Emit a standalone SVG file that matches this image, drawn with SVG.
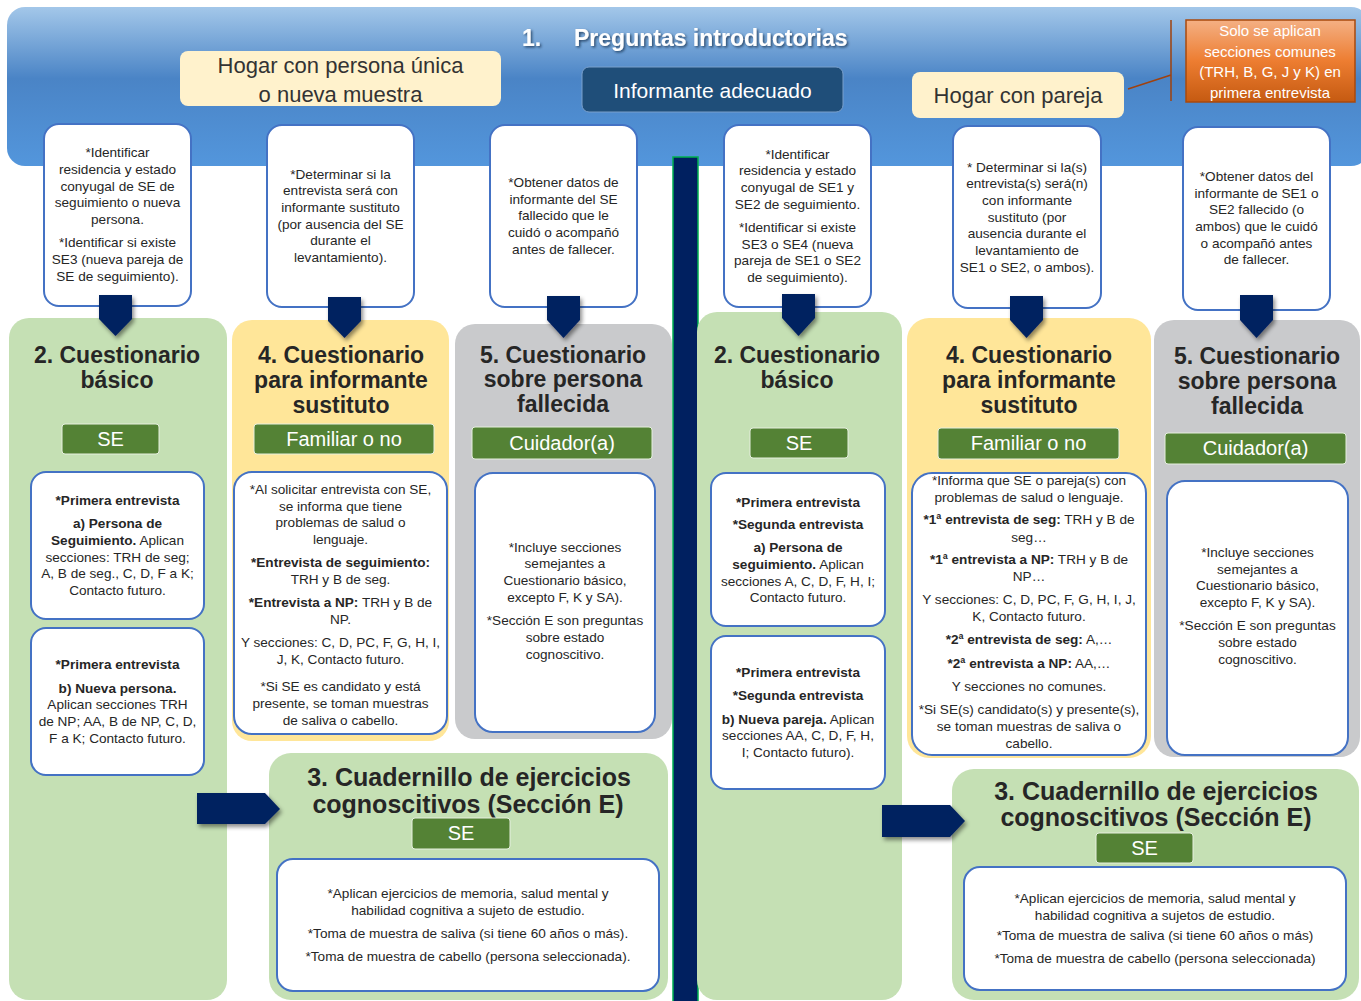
<svg xmlns="http://www.w3.org/2000/svg" width="1361" height="1001" viewBox="0 0 1361 1001">
<defs>
<linearGradient id="gBanner" x1="0" y1="0" x2="0" y2="1">
<stop offset="0" stop-color="#a3c7e9"/>
<stop offset="0.45" stop-color="#4a84c6"/>
<stop offset="1" stop-color="#5396dc"/>
</linearGradient>
<linearGradient id="gOrange" x1="0" y1="0" x2="0" y2="1">
<stop offset="0" stop-color="#f4b084"/>
<stop offset="0.5" stop-color="#ed7d31"/>
<stop offset="1" stop-color="#c55a11"/>
</linearGradient>
<filter id="shadow" x="-30%" y="-30%" width="160%" height="160%">
<feDropShadow dx="2" dy="3" stdDeviation="2" flood-color="#000" flood-opacity="0.45"/>
</filter>
<filter id="tshadow" x="-10%" y="-30%" width="120%" height="160%">
<feDropShadow dx="1.5" dy="1.5" stdDeviation="0.8" flood-color="#1b3553" flood-opacity="0.8"/>
</filter>
<style>
.body{font-family:"Liberation Sans",Arial,sans-serif;font-size:13.6px;fill:#262626;text-anchor:middle}
.b{font-weight:bold}
.ttl{font-family:"Liberation Sans",Arial,sans-serif;font-weight:bold;font-size:23px;fill:#262626;text-anchor:middle}
.ttl2{font-family:"Liberation Sans",Arial,sans-serif;font-weight:bold;font-size:25px;fill:#262626;text-anchor:middle}
.card{fill:#ffffff;stroke:#4472c4;stroke-width:2}
.btn{fill:#548235;stroke:#e6efdf;stroke-width:1}
.btnt{font-family:"Liberation Sans",Arial,sans-serif;font-size:20px;fill:#ffffff;text-anchor:middle}
.green{fill:#c5e0b4}
.yellow{fill:#ffe699}
.gray{fill:#c9cacc}
.cream{fill:#fff2cc}
.lbl{font-family:"Liberation Sans",Arial,sans-serif;font-size:22px;fill:#333333;text-anchor:middle}
.arr{fill:#002060;filter:url(#shadow)}
</style>
</defs>

<g id="banner">
<rect x="7" y="7" width="1362" height="159" rx="18" fill="url(#gBanner)"/>
<text filter="url(#tshadow)" font-family="Liberation Sans, Arial, sans-serif" font-weight="bold" font-size="23" fill="#ffffff"><tspan x="522" y="46">1.</tspan><tspan x="574" y="46">Preguntas introductorias</tspan></text>
</g>

<g id="hogar-unica">
<rect class="cream" x="180" y="51" width="321" height="55" rx="8"/>
<text class="lbl" x="340.5" y="73">Hogar con persona única</text>
<text class="lbl" x="340.5" y="102">o nueva muestra</text>
</g>

<g id="informante">
<rect x="582" y="67" width="261" height="45" rx="7" fill="#1f4e79" stroke="#7aa0cc" stroke-width="1"/>
<text x="712.5" y="98" font-family="Liberation Sans, Arial, sans-serif" font-size="21" fill="#ffffff" text-anchor="middle">Informante adecuado</text>
</g>

<g id="hogar-pareja">
<rect class="cream" x="912" y="72" width="212" height="46" rx="8"/>
<text class="lbl" x="1018" y="103">Hogar con pareja</text>
</g>

<g id="nota-orange">
<rect x="1186" y="20" width="169" height="82" fill="url(#gOrange)" stroke="#a9490c" stroke-width="1.5"/>
<g font-family="Liberation Sans, Arial, sans-serif" font-size="15" fill="#ffffff" text-anchor="middle">
<text x="1270" y="36">Solo se aplican</text>
<text x="1270" y="57">secciones comunes</text>
<text x="1270" y="77">(TRH, B, G, J y K) en</text>
<text x="1270" y="98">primera entrevista</text>
</g>
</g>

<g id="divider">
<rect x="673" y="157" width="25" height="850" fill="#002060" stroke="#00b050" stroke-width="1.5"/>
</g>

<!-- Top callout cards -->
<g id="intro-1">
<rect class="card" x="44" y="124" width="147" height="182" rx="15"/>
<text class="body" x="117.5" y="157">*Identificar</text>
<text class="body" x="117.5" y="174">residencia y estado</text>
<text class="body" x="117.5" y="191">conyugal de SE de</text>
<text class="body" x="117.5" y="207">seguimiento o nueva</text>
<text class="body" x="117.5" y="224">persona.</text>
<text class="body" x="117.5" y="247">*Identificar si existe</text>
<text class="body" x="117.5" y="264">SE3 (nueva pareja de</text>
<text class="body" x="117.5" y="281">SE de seguimiento).</text>
</g>
<g id="intro-2">
<rect class="card" x="267" y="125" width="147" height="182" rx="15"/>
<text class="body" x="340.5" y="179">*Determinar si la</text>
<text class="body" x="340.5" y="195">entrevista será con</text>
<text class="body" x="340.5" y="212">informante sustituto</text>
<text class="body" x="340.5" y="229">(por ausencia del SE</text>
<text class="body" x="340.5" y="245">durante el</text>
<text class="body" x="340.5" y="262">levantamiento).</text>
</g>
<g id="intro-3">
<rect class="card" x="490" y="125" width="147" height="182" rx="15"/>
<text class="body" x="563.5" y="187">*Obtener datos de</text>
<text class="body" x="563.5" y="204">informante del SE</text>
<text class="body" x="563.5" y="220">fallecido que le</text>
<text class="body" x="563.5" y="237">cuidó o acompañó</text>
<text class="body" x="563.5" y="254">antes de fallecer.</text>
</g>
<g id="intro-4">
<rect class="card" x="724" y="125" width="147" height="182" rx="15"/>
<text class="body" x="797.5" y="159">*Identificar</text>
<text class="body" x="797.5" y="175">residencia y estado</text>
<text class="body" x="797.5" y="192">conyugal de SE1 y</text>
<text class="body" x="797.5" y="209">SE2 de seguimiento.</text>
<text class="body" x="797.5" y="232">*Identificar si existe</text>
<text class="body" x="797.5" y="249">SE3 o SE4 (nueva</text>
<text class="body" x="797.5" y="265">pareja de SE1 o SE2</text>
<text class="body" x="797.5" y="282">de seguimiento).</text>
</g>
<g id="intro-5">
<rect class="card" x="953" y="126" width="148" height="182" rx="15"/>
<text class="body" x="1027" y="172">* Determinar si la(s)</text>
<text class="body" x="1027" y="188">entrevista(s) será(n)</text>
<text class="body" x="1027" y="205">con informante</text>
<text class="body" x="1027" y="222">sustituto (por</text>
<text class="body" x="1027" y="238">ausencia durante el</text>
<text class="body" x="1027" y="255">levantamiento de</text>
<text class="body" x="1027" y="272">SE1 o SE2, o ambos).</text>
</g>
<g id="intro-6">
<rect class="card" x="1183" y="127" width="147" height="183" rx="15"/>
<text class="body" x="1256.5" y="181">*Obtener datos del</text>
<text class="body" x="1256.5" y="198">informante de SE1 o</text>
<text class="body" x="1256.5" y="214">SE2 fallecido (o</text>
<text class="body" x="1256.5" y="231">ambos) que le cuidó</text>
<text class="body" x="1256.5" y="248">o acompañó antes</text>
<text class="body" x="1256.5" y="264">de fallecer.</text>
</g>

<!-- Left side panels -->
<g id="basico-izq">
<rect class="green" x="9" y="318" width="218" height="682" rx="20"/>
<text class="ttl" x="117" y="363">2. Cuestionario</text>
<text class="ttl" x="117" y="388">básico</text>
<rect class="btn" x="62" y="424" width="97" height="30" rx="3"/>
<text class="btnt" x="110.5" y="446">SE</text>
<rect class="card" x="31" y="472" width="173" height="147" rx="15"/>
<text class="body b" x="117.5" y="505">*Primera entrevista</text>
<text class="body b" x="117.5" y="528">a) Persona de</text>
<text class="body" x="117.5" y="545"><tspan class="b">Seguimiento.</tspan> Aplican</text>
<text class="body" x="117.5" y="562">secciones: TRH de seg;</text>
<text class="body" x="117.5" y="578">A, B de seg., C, D, F a K;</text>
<text class="body" x="117.5" y="595">Contacto futuro.</text>
<rect class="card" x="31" y="628" width="173" height="147" rx="15"/>
<text class="body b" x="117.5" y="669">*Primera entrevista</text>
<text class="body b" x="117.5" y="693">b) Nueva persona.</text>
<text class="body" x="117.5" y="709">Aplican secciones TRH</text>
<text class="body" x="117.5" y="726">de NP; AA, B de NP, C, D,</text>
<text class="body" x="117.5" y="743">F a K; Contacto futuro.</text>
</g>

<g id="sustituto-izq">
<rect class="yellow" x="232" y="320" width="217" height="421" rx="20"/>
<text class="ttl" x="341" y="363">4. Cuestionario</text>
<text class="ttl" x="341" y="388">para informante</text>
<text class="ttl" x="341" y="413">sustituto</text>
<rect class="btn" x="254" y="424" width="180" height="30" rx="3"/>
<text class="btnt" x="344" y="446">Familiar o no</text>
<rect class="card" x="234" y="472" width="213" height="262" rx="18"/>
<text class="body" x="340.5" y="494">*Al solicitar entrevista con SE,</text>
<text class="body" x="340.5" y="511">se informa que tiene</text>
<text class="body" x="340.5" y="527">problemas de salud o</text>
<text class="body" x="340.5" y="544">lenguaje.</text>
<text class="body b" x="340.5" y="567">*Entrevista de seguimiento:</text>
<text class="body" x="340.5" y="584">TRH y B de seg.</text>
<text class="body" x="340.5" y="607"><tspan class="b">*Entrevista a NP:</tspan> TRH y B de</text>
<text class="body" x="340.5" y="624">NP.</text>
<text class="body" x="340.5" y="647">Y secciones: C, D, PC, F, G, H, I,</text>
<text class="body" x="340.5" y="664">J, K, Contacto futuro.</text>
<text class="body" x="340.5" y="691">*Si SE es candidato y está</text>
<text class="body" x="340.5" y="708">presente, se toman muestras</text>
<text class="body" x="340.5" y="725">de saliva o cabello.</text>
</g>

<g id="fallecida-izq">
<rect class="gray" x="455" y="324" width="217" height="415" rx="20"/>
<text class="ttl" x="563" y="363">5. Cuestionario</text>
<text class="ttl" x="563" y="387">sobre persona</text>
<text class="ttl" x="563" y="412">fallecida</text>
<rect class="btn" x="472" y="427" width="180" height="32" rx="3"/>
<text class="btnt" x="562" y="450">Cuidador(a)</text>
<rect class="card" x="475" y="473" width="180" height="259" rx="18"/>
<text class="body" x="565" y="552">*Incluye secciones</text>
<text class="body" x="565" y="568">semejantes a</text>
<text class="body" x="565" y="585">Cuestionario básico,</text>
<text class="body" x="565" y="602">excepto F, K y SA).</text>
<text class="body" x="565" y="625">*Sección E son preguntas</text>
<text class="body" x="565" y="642">sobre estado</text>
<text class="body" x="565" y="659">cognoscitivo.</text>
</g>

<g id="cuadernillo-izq">
<rect class="green" x="269" y="753" width="399" height="247" rx="22"/>
<text class="ttl2" x="469" y="786">3. Cuadernillo de ejercicios</text>
<text class="ttl2" x="468" y="813">cognoscitivos (Sección E)</text>
<rect class="btn" x="412" y="818" width="98" height="31" rx="3"/>
<text class="btnt" x="461" y="840">SE</text>
<rect class="card" x="277" y="859" width="382" height="132" rx="16"/>
<text class="body" x="468" y="898">*Aplican ejercicios de memoria, salud mental y</text>
<text class="body" x="468" y="915">habilidad cognitiva a sujeto de estudio.</text>
<text class="body" x="468" y="938">*Toma de muestra de saliva (si tiene 60 años o más).</text>
<text class="body" x="468" y="961">*Toma de muestra de cabello (persona seleccionada).</text>
</g>

<!-- Right side panels -->
<g id="basico-der">
<rect class="green" x="697" y="312" width="205" height="688" rx="20"/>
<text class="ttl" x="797" y="363">2. Cuestionario</text>
<text class="ttl" x="797" y="388">básico</text>
<rect class="btn" x="750" y="428" width="98" height="30" rx="3"/>
<text class="btnt" x="799" y="450">SE</text>
<rect class="card" x="711" y="473" width="174" height="153" rx="15"/>
<text class="body b" x="798" y="507">*Primera entrevista</text>
<text class="body b" x="798" y="529">*Segunda entrevista</text>
<text class="body b" x="798" y="552">a) Persona de</text>
<text class="body" x="798" y="569"><tspan class="b">seguimiento.</tspan> Aplican</text>
<text class="body" x="798" y="586">secciones A, C, D, F, H, I;</text>
<text class="body" x="798" y="602">Contacto futuro.</text>
<rect class="card" x="711" y="636" width="174" height="153" rx="15"/>
<text class="body b" x="798" y="677">*Primera entrevista</text>
<text class="body b" x="798" y="700">*Segunda entrevista</text>
<text class="body" x="798" y="724"><tspan class="b">b) Nueva pareja.</tspan> Aplican</text>
<text class="body" x="798" y="740">secciones AA, C, D, F, H,</text>
<text class="body" x="798" y="757">I; Contacto futuro).</text>
</g>

<g id="sustituto-der">
<rect class="yellow" x="907" y="318" width="244" height="440" rx="22"/>
<text class="ttl" x="1029" y="363">4. Cuestionario</text>
<text class="ttl" x="1029" y="388">para informante</text>
<text class="ttl" x="1029" y="413">sustituto</text>
<rect class="btn" x="938" y="428" width="181" height="31" rx="3"/>
<text class="btnt" x="1028.5" y="450">Familiar o no</text>
<rect class="card" x="912" y="473" width="234" height="282" rx="20"/>
<text class="body" x="1029" y="485">*Informa que SE o pareja(s) con</text>
<text class="body" x="1029" y="502">problemas de salud o lenguaje.</text>
<text class="body" x="1029" y="524"><tspan class="b">*1ª entrevista de seg:</tspan> TRH y B de</text>
<text class="body" x="1029" y="542">seg…</text>
<text class="body" x="1029" y="564"><tspan class="b">*1ª entrevista a NP:</tspan> TRH y B de</text>
<text class="body" x="1029" y="581">NP…</text>
<text class="body" x="1029" y="604">Y secciones: C, D, PC, F, G, H, I, J,</text>
<text class="body" x="1029" y="621">K, Contacto futuro.</text>
<text class="body" x="1029" y="644"><tspan class="b">*2ª  entrevista de seg:</tspan> A,…</text>
<text class="body" x="1029" y="668"><tspan class="b">*2ª entrevista a NP:</tspan> AA,…</text>
<text class="body" x="1029" y="691">Y secciones no comunes.</text>
<text class="body" x="1029" y="714">*Si SE(s) candidato(s) y presente(s),</text>
<text class="body" x="1029" y="731">se toman muestras de saliva o</text>
<text class="body" x="1029" y="748">cabello.</text>
</g>

<g id="fallecida-der">
<rect class="gray" x="1154" y="320" width="206" height="437" rx="20"/>
<text class="ttl" x="1257" y="364">5. Cuestionario</text>
<text class="ttl" x="1257" y="389">sobre persona</text>
<text class="ttl" x="1257" y="414">fallecida</text>
<rect class="btn" x="1165" y="433" width="181" height="31" rx="3"/>
<text class="btnt" x="1255.5" y="455">Cuidador(a)</text>
<rect class="card" x="1167" y="481" width="181" height="274" rx="18"/>
<text class="body" x="1257.5" y="557">*Incluye secciones</text>
<text class="body" x="1257.5" y="574">semejantes a</text>
<text class="body" x="1257.5" y="590">Cuestionario básico,</text>
<text class="body" x="1257.5" y="607">excepto F, K y SA).</text>
<text class="body" x="1257.5" y="630">*Sección E son preguntas</text>
<text class="body" x="1257.5" y="647">sobre estado</text>
<text class="body" x="1257.5" y="664">cognoscitivo.</text>
</g>

<g id="cuadernillo-der">
<rect class="green" x="952" y="769" width="407" height="231" rx="22"/>
<text class="ttl2" x="1156" y="800">3. Cuadernillo de ejercicios</text>
<text class="ttl2" x="1156" y="826">cognoscitivos (Sección E)</text>
<rect class="btn" x="1096" y="833" width="97" height="30" rx="3"/>
<text class="btnt" x="1144.5" y="855">SE</text>
<rect class="card" x="964" y="867" width="382" height="123" rx="16"/>
<text class="body" x="1155" y="903">*Aplican ejercicios de memoria, salud mental y</text>
<text class="body" x="1155" y="920">habilidad cognitiva a sujetos de estudio.</text>
<text class="body" x="1155" y="940">*Toma de muestra de saliva (si tiene 60 años o más)</text>
<text class="body" x="1155" y="963">*Toma de muestra de cabello (persona seleccionada)</text>
</g>

<g id="connectors">
<path d="M1128 89 L1171 75 M1171 20 L1171 101" stroke="#a0410d" stroke-width="1.5" fill="none"/>
<polygon class="arr" points="99,295 132,295 132,319 115.5,336 99,319"/>
<polygon class="arr" points="328,297 361,297 361,321 344.5,338 328,321"/>
<polygon class="arr" points="547,296 580,296 580,320 563.5,338 547,320"/>
<polygon class="arr" points="782,294 815,294 815,318 798.5,336 782,318"/>
<polygon class="arr" points="1010,296 1043,296 1043,320 1026.5,338 1010,320"/>
<polygon class="arr" points="1240,295 1273,295 1273,320 1256.5,338 1240,320"/>
<polygon class="arr" points="197,793 265,793 280,809 265,824 197,824"/>
<polygon class="arr" points="882,805 950,805 965,821 950,837 882,837"/>
</g>
</svg>
